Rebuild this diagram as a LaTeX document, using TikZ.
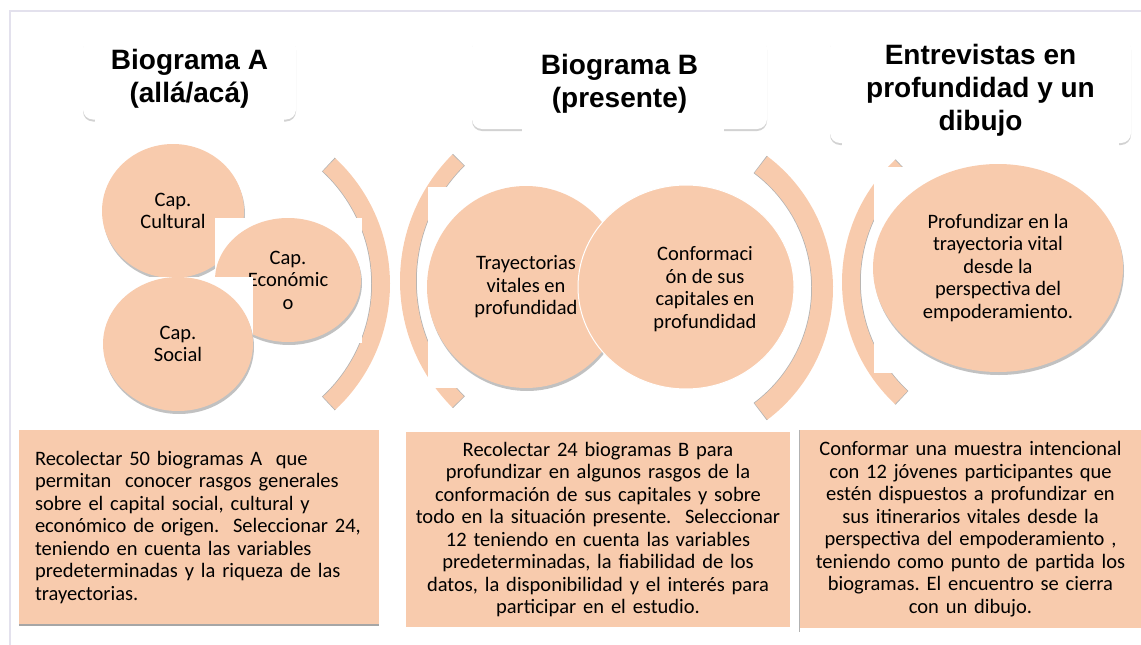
\documentclass[tikz,border=0pt]{standalone}
\usepackage{fontspec}
\setmainfont{Carlito}
\newfontfamily\titlefont{Liberation Sans}
\usetikzlibrary{shapes.geometric,shadows,calc}
\definecolor{peach}{HTML}{F8CBAD}
\definecolor{framegray}{HTML}{E3E1ED}
\frenchspacing

\begin{document}
\begin{tikzpicture}[x=1pt,y=-1pt,
	titlebox/.style={fill=white,rounded corners=10pt,align=center,inner sep=0pt,
		font=\titlefont\bfseries\fontsize{28}{33}\selectfont,
		drop shadow={shadow xshift=0pt,shadow yshift=-2pt,fill=gray!70,opacity=0.5}},
	capnode/.style={ellipse,fill=peach,inner sep=0pt,align=center,font=\fontsize{20.5}{22.5}\selectfont},
	capshadow/.style={drop shadow={shadow xshift=1pt,shadow yshift=-3pt,fill=gray!80,opacity=0.6}},
	bandedge/.style={draw=gray!60,line width=1.5pt},
	goalbox/.style={fill=peach,inner ysep=0pt,font=\fontsize{20.5}{22.5}\selectfont}]
	\useasboundingbox (0,0) rectangle (1141,645);
	\draw[framegray,line width=2pt] (1141,11) -- (10,11) -- (10,645);
	
	% titulos
	\node[titlebox,minimum width=213pt,minimum height=81pt] (tA) at (189.5,79) {Biograma A\\(allá/acá)};
	\node[titlebox,minimum width=295pt,minimum height=91pt] (tB) at (619.5,83.5) {Biograma B\\(presente)};
	\node[titlebox,minimum width=301pt,minimum height=105pt] (tC) at (980.5,90.5) {Entrevistas en\\profundidad y un\\dibujo};
	\fill[white] ([xshift=12pt,yshift=1pt]tA.south west) rectangle ([xshift=-12pt,yshift=-5pt]tA.south east);
	\fill[white] ([xshift=50pt,yshift=1pt]tB.south west) rectangle ([xshift=-43pt,yshift=-5pt]tB.south east);
	\fill[white] ([xshift=12pt,yshift=1pt]tC.south west) rectangle ([xshift=-12pt,yshift=-5pt]tC.south east);
	
	% parentesis
	\foreach \cx/\cy/\sa/\ea/\ri/\ro in {218/284/-47/47/154/172, 579/281/135/225/163/179, 668/288/-53/53/144/165, 1009/282/133/227/149/167}{
		\draw[bandedge] ($(\cx,\cy)+(\sa:\ro)$) -- ($(\cx,\cy)+(\sa:\ri)$) arc[start angle=\sa,end angle=\ea,radius=\ri] -- ($(\cx,\cy)+(\ea:\ro)$);
		\draw[peach,line width=(\ro-\ri)*1pt] ($(\cx,\cy)+(\sa:{(\ri+\ro)/2})$) arc[start angle=\sa,end angle=\ea,radius={(\ri+\ro)/2}];
	}
	
	% biograma A
	\node[capnode,capshadow,minimum width=142pt,minimum height=134pt] (cult) at (173,211) {Cap.\\Cultural};
	\fill[white] (215,218) rectangle (362,343);
	\node[capnode,capshadow,minimum width=146pt,minimum height=124pt] (econ) at (288,280) {Cap.\\Económic\\o};
	\fill[white] (103,277) rectangle (253,412);
	\node[capnode,capshadow,minimum width=150pt,minimum height=134pt] (soc) at (178,344) {Cap.\\Social};
	
	% biograma B
	\fill[white] (428,187) rectangle (624,388);
	\node[capnode,capshadow,minimum width=198pt,minimum height=202pt] (tray) at (526,287) {Trayectorias\\vitales en\\profundidad};
	\node[capnode,draw=white,line width=1pt,minimum width=216pt,minimum height=204pt] (conf) at (686,287) {};
	\node[align=center,font=\fontsize{20.5}{22.5}\selectfont] (conftext) at (705,289) {Conformaci\\ón de sus\\capitales en\\profundidad};
	
	% entrevistas
	\fill[white] (874,167) rectangle (1124,373);
	\node[capnode,capshadow,minimum width=250pt,minimum height=208pt] (prof) at (998,268) {Profundizar en la\\trayectoria vital\\desde la\\perspectiva del\\empoderamiento.};
	
	% objetivos
	\node[goalbox,align=left,inner xsep=16pt,text width=328pt,minimum width=360pt,minimum height=195pt] (gA) at (199,527.5) {Recolectar 50 biogramas A\ \ que\\permitan\ \ conocer rasgos generales\\sobre el capital social, cultural y\\\mbox{económico de origen.\ \ Seleccionar 24,}\\teniendo en cuenta las variables\\predeterminadas y la riqueza de las\\trayectorias.};
	\draw[gray!70,line width=1.5pt] (gA.south west) -- (gA.south east);
	\node[goalbox,align=center,inner xsep=4pt,text width=376pt,minimum width=384pt,minimum height=195pt] (gB) at (598,529.5) {Recolectar 24 biogramas B para\\profundizar en algunos rasgos de la\\conformación de sus capitales y sobre\\todo en la situación presente.\ \ Seleccionar\\12 teniendo en cuenta las variables\\predeterminadas, la fiabilidad de los\\datos, la disponibilidad y el interés para\\participar en el estudio.};
	\node[goalbox,align=center,inner xsep=4pt,text width=333pt,minimum width=341pt,minimum height=198pt] (gC) at (970.5,529) {Conformar una muestra intencional\\con 12 jóvenes participantes que\\estén dispuestos a profundizar en\\sus itinerarios vitales desde la\\perspectiva del empoderamiento ,\\teniendo como punto de partida los\\biogramas. El encuentro se cierra\\con un dibujo.};
	\draw[gray!60,line width=1pt] ([xshift=-0.5pt]gC.north west) -- ([xshift=-0.5pt,yshift=-4pt]gC.south west);
\end{tikzpicture}
\end{document}
